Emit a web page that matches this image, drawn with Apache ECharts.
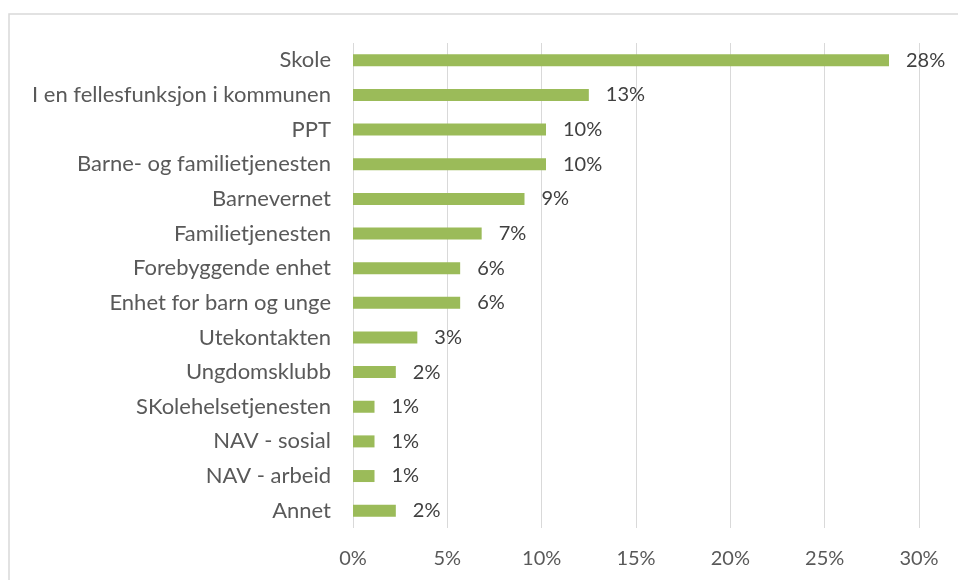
<!DOCTYPE html>
<html>
<head>
<meta charset="utf-8">
<script src="https://cdn.jsdelivr.net/npm/echarts@6/dist/echarts.min.js"></script>
<style>html,body{margin:0;padding:0;background:#fff}#c{width:958px;height:580px}</style>
</head>
<body>
<div id="c"></div>
<script>
const categories = ["Skole","I en fellesfunksjon i kommunen","PPT","Barne- og familietjenesten","Barnevernet","Familietjenesten","Forebyggende enhet","Enhet for barn og unge","Utekontakten","Ungdomsklubb","SKolehelsetjenesten","NAV - sosial","NAV - arbeid","Annet"];
const values = [28.41,12.50,10.23,10.23,9.09,6.82,5.68,5.68,3.41,2.27,1.14,1.14,1.14,2.27];
const xTicks = [0,5,10,15,20,25,30];

const chart = echarts.init(document.getElementById('c'));
chart.setOption({
  animation:false,
  graphic:[{type:'rect',shape:{x:9,y:14,width:980,height:620},style:{fill:'none',stroke:'#d9d9d9',lineWidth:1.5},silent:true}],
  grid:{left:353,right:39,top:43,bottom:52,containLabel:false},
  xAxis:{type:'value',min:xTicks[0],max:xTicks[xTicks.length-1],interval:xTicks[1]-xTicks[0],
    axisLine:{show:false},axisTick:{show:false},
    splitLine:{show:true,lineStyle:{color:'#d9d9d9',width:1}},
    axisLabel:{formatter:v=>v+'%',color:'#595959',fontFamily:'Lato',fontSize:20,margin:21}},
  yAxis:{type:'category',data:categories,inverse:true,
    axisLine:{show:false},axisTick:{show:false},
    axisLabel:{color:'#595959',fontFamily:'Lato',fontSize:22,margin:22}},
  series:[{type:'bar',data:values,barWidth:12,
    itemStyle:{color:'#9BBB59'},
    label:{show:true,position:'right',distance:17,color:'#404040',fontFamily:'Lato',fontSize:20,
      formatter:p=>Math.round(p.value)+'%'}}]
});
</script>
</body>
</html>
